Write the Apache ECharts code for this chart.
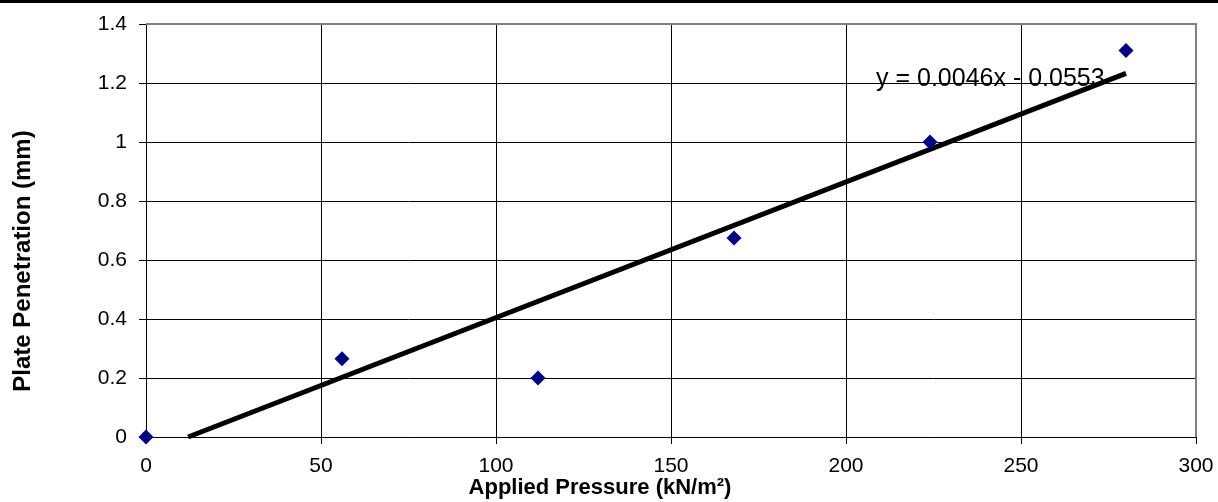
<!DOCTYPE html>
<html><head><meta charset="utf-8">
<script src="https://cdn.jsdelivr.net/npm/echarts@6/dist/echarts.min.js"></script>
<style>html,body{margin:0;padding:0;background:#fff}#c{width:1218px;height:502px}</style>
</head><body><div id="c"></div>
<script>
const pressure = [0, 56, 112, 168, 224, 280];
const penetration = [0, 0.265, 0.2, 0.675, 1.0, 1.31];
const trendSlope = 0.0046;
const trendIntercept = -0.0553;
const trendLabel = 'y = 0.0046x - 0.0553';
const xTitle = 'Applied Pressure (kN/m²)';
const yTitle = 'Plate Penetration (mm)';

const pts = pressure.map((x, i) => [x, penetration[i]]);
const xStart = -trendIntercept / trendSlope;
const xEnd = pressure[pressure.length - 1];
const trend = [[xStart, trendSlope * xStart + trendIntercept], [xEnd, trendSlope * xEnd + trendIntercept]];

const chart = echarts.init(document.getElementById('c'), null, {renderer: 'canvas'});
const font = 'Liberation Sans, Arial, sans-serif';
chart.setOption({
  animation: false,
  backgroundColor: '#fff',
  grid: {left: 146, top: 24, right: 22, bottom: 65, containLabel: false, show: false},
  xAxis: {
    type: 'value', min: 0, max: 300, interval: 50,
    axisLine: {show: true, onZero: false, lineStyle: {color: '#000', width: 1}},
    axisTick: {show: true, length: 7, lineStyle: {color: '#000'}},
    axisLabel: {color: '#000', fontFamily: font, fontSize: 21, margin: 19},
    splitLine: {show: true, lineStyle: {color: '#000', width: 1}}
  },
  yAxis: {
    type: 'value', min: 0, max: 1.4, interval: 0.2,
    axisLine: {show: true, onZero: false, lineStyle: {color: '#000', width: 1}},
    axisTick: {show: true, length: 7, lineStyle: {color: '#000'}},
    axisLabel: {color: '#000', fontFamily: font, fontSize: 21, margin: 19,
      formatter: v => String(Math.round(v * 10) / 10)},
    splitLine: {show: true, lineStyle: {color: '#000', width: 1}}
  },
  graphic: [
    {type: 'rect', shape: {x: 0, y: 0, width: 1218, height: 3}, style: {fill: '#000'}},
    {type: 'polyline', shape: {points: [[146, 24], [1196, 24], [1196, 437]]}, style: {stroke: '#808080', lineWidth: 2, fill: null}, z: 10},
    {type: 'text', x: 600, y: 488, style: {text: xTitle, font: 'bold 22px ' + font, fill: '#000', align: 'center', verticalAlign: 'middle'}},
    {type: 'text', x: 23, y: 261, rotation: Math.PI / 2, style: {text: yTitle, font: 'bold 24px ' + font, fill: '#000', align: 'center', verticalAlign: 'middle'}},
    {type: 'text', x: 876, y: 79, style: {text: trendLabel, font: '25px ' + font, fill: '#000', verticalAlign: 'middle'}, z: 20}
  ],
  series: [
    {type: 'line', data: trend, symbol: 'none', lineStyle: {color: '#000', width: 5}, z: 3, silent: true},
    {type: 'scatter', data: pts, symbol: 'diamond', symbolSize: [15, 15], itemStyle: {color: '#000080', opacity: 1}, z: 5}
  ]
});
</script></body></html>
